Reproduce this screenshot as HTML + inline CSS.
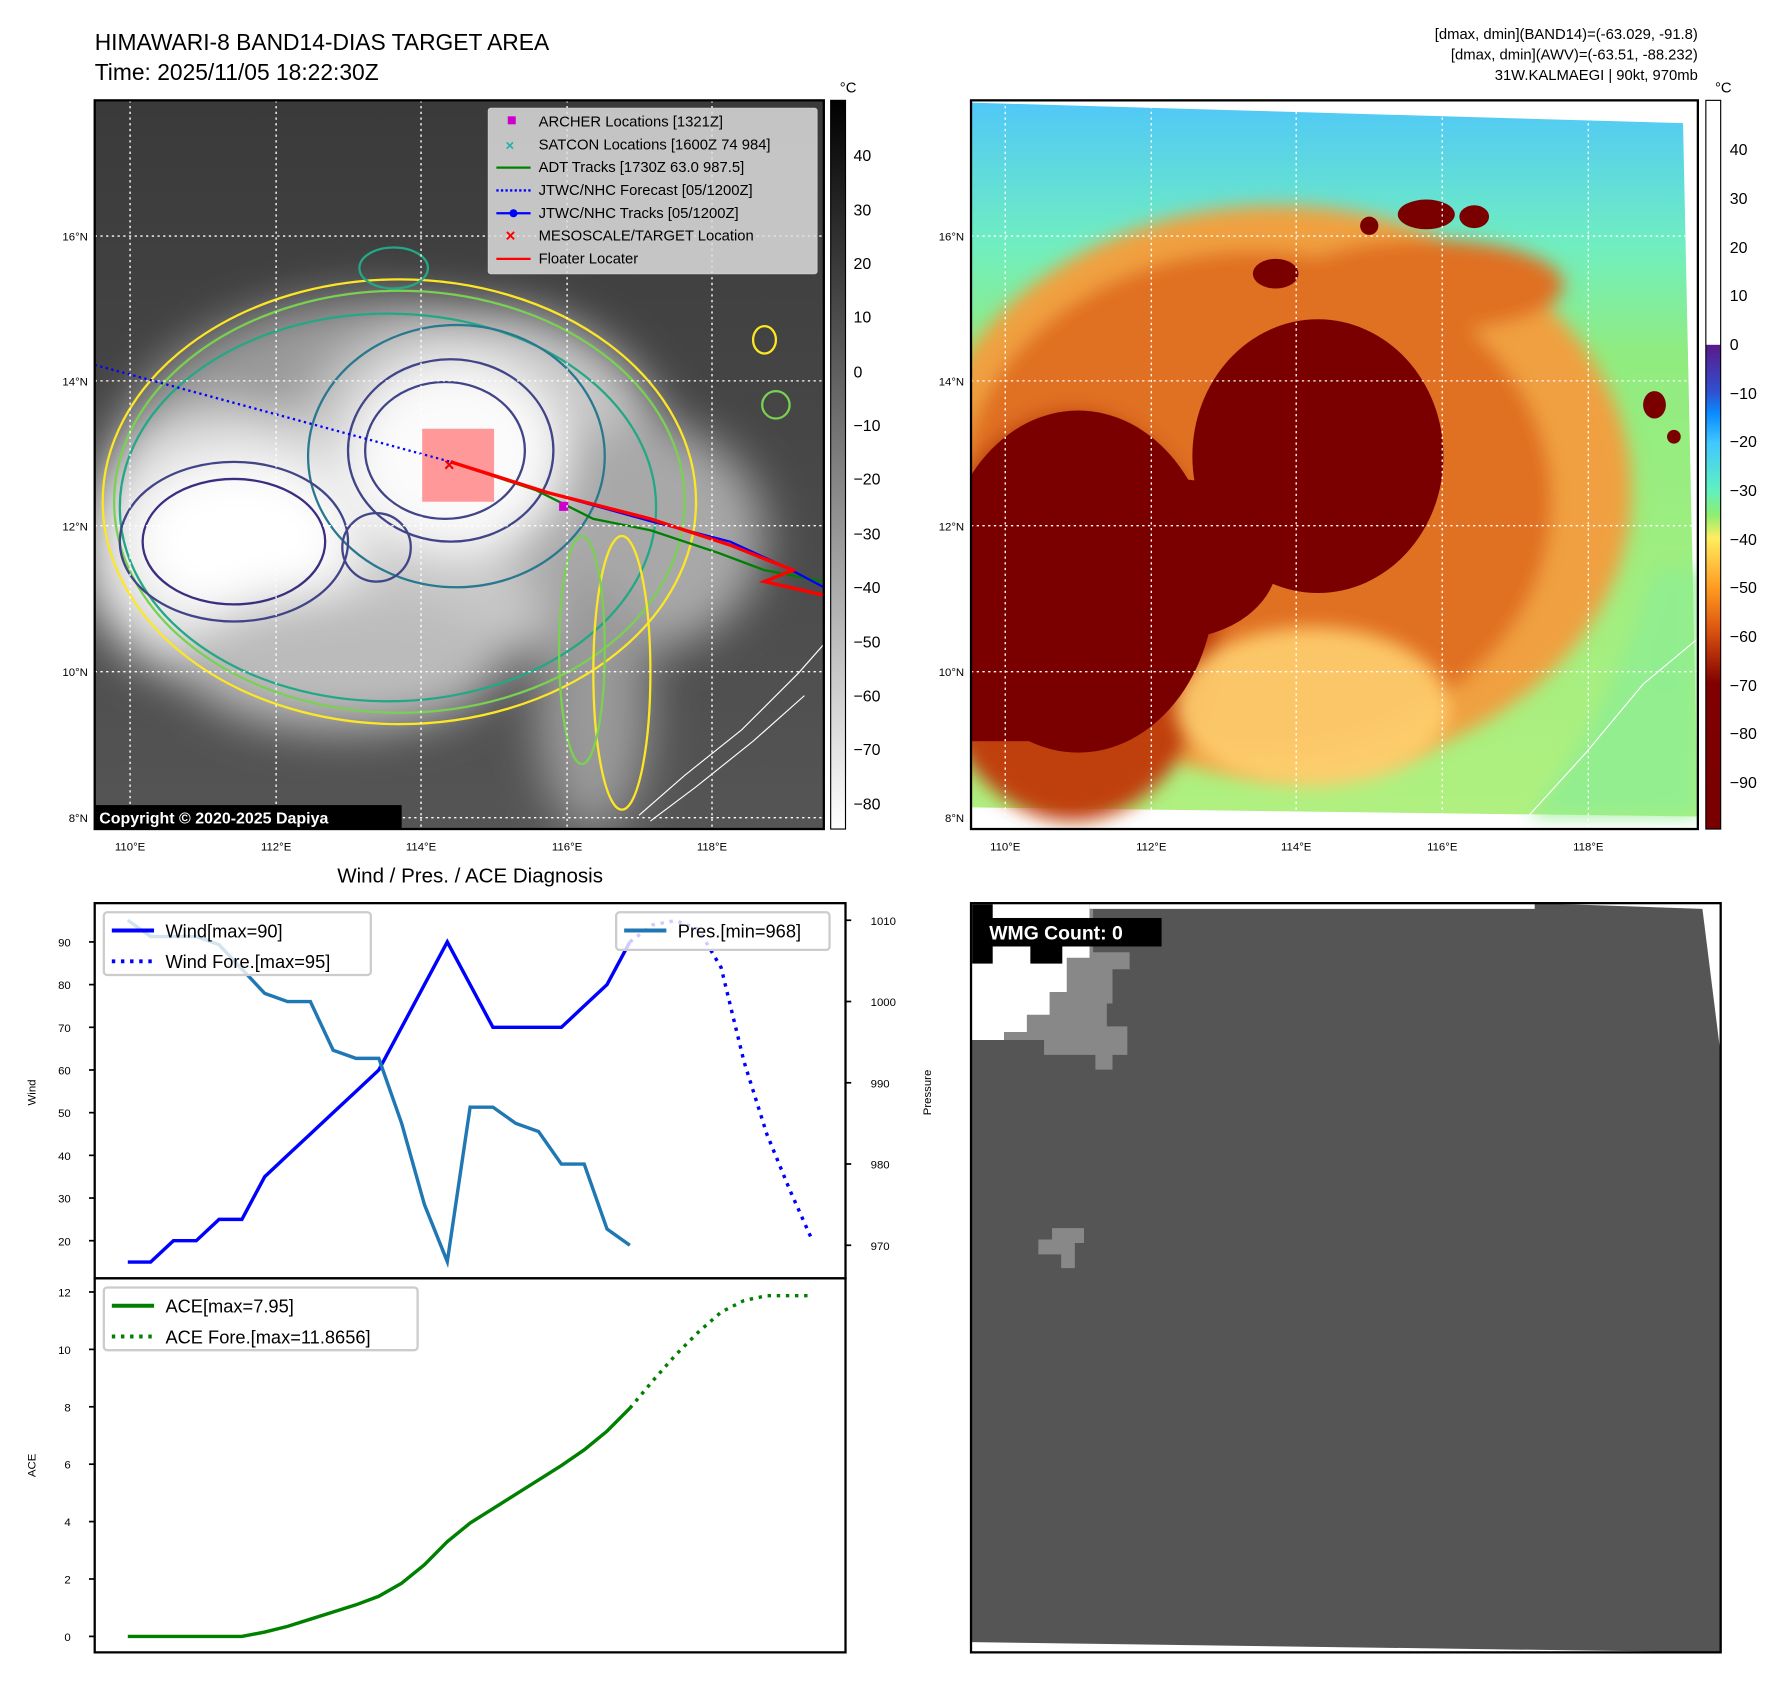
<!DOCTYPE html>
<html><head><meta charset="utf-8"><style>
html,body{margin:0;padding:0;background:#fff}
svg{display:block;font-family:"Liberation Sans","DejaVu Sans",sans-serif}
</style></head><body>
<svg id="fig" width="1788" height="1690" viewBox="0 0 1567 1482" preserveAspectRatio="none" xmlns="http://www.w3.org/2000/svg">
<defs>
<filter id="blur8"><feGaussianBlur stdDeviation="8"/></filter>
<filter id="blur20"><feGaussianBlur stdDeviation="20"/></filter>
<clipPath id="c1"><rect x="83" y="88" width="639" height="639"/></clipPath>
<clipPath id="c2"><rect x="851" y="88" width="637" height="639"/></clipPath>
<linearGradient id="cb1" x1="0" y1="0" x2="0" y2="1"><stop offset="0" stop-color="#000"/><stop offset="1" stop-color="#fff"/></linearGradient>
<linearGradient id="cb2" x1="0" y1="0" x2="0" y2="1">
<stop offset="0" stop-color="#fff"/><stop offset="0.335" stop-color="#fff"/>
<stop offset="0.336" stop-color="#5a1a8a"/><stop offset="0.4" stop-color="#3050d0"/><stop offset="0.43" stop-color="#0a8cff"/>
<stop offset="0.47" stop-color="#40c8ff"/><stop offset="0.535" stop-color="#60f0c0"/><stop offset="0.57" stop-color="#90ee70"/>
<stop offset="0.6" stop-color="#ffee60"/><stop offset="0.67" stop-color="#ff9a20"/><stop offset="0.73" stop-color="#d85010"/>
<stop offset="0.8" stop-color="#800000"/><stop offset="1" stop-color="#780000"/></linearGradient>
<linearGradient id="sky2" x1="0" y1="0" x2="0" y2="1"><stop offset="0" stop-color="#50c8f8"/><stop offset="0.2" stop-color="#70eec0"/><stop offset="0.35" stop-color="#90ec80"/><stop offset="1" stop-color="#b0f080"/></linearGradient>
<linearGradient id="sky1" x1="0" y1="0" x2="0" y2="1"><stop offset="0" stop-color="#3a3a3a"/><stop offset="1" stop-color="#555"/></linearGradient>
</defs>

<text x="83" y="44" font-size="20">HIMAWARI-8 BAND14-DIAS TARGET AREA</text>
<text x="83" y="70" font-size="20">Time: 2025/11/05 18:22:30Z</text>
<g font-size="13" text-anchor="end">
<text x="1488" y="34">[dmax, dmin](BAND14)=(-63.029, -91.8)</text>
<text x="1488" y="52">[dmax, dmin](AWV)=(-63.51, -88.232)</text>
<text x="1488" y="70">31W.KALMAEGI | 90kt, 970mb</text>
</g>

<g clip-path="url(#c1)">
<rect x="83" y="88" width="639" height="639" fill="url(#sky1)"/>
<g filter="url(#blur20)">
<ellipse cx="330" cy="430" rx="240" ry="170" fill="#9a9a9a"/>
<ellipse cx="420" cy="420" rx="170" ry="150" fill="#c8c8c8"/>
<ellipse cx="560" cy="470" rx="110" ry="100" fill="#a8a8a8"/>
<ellipse cx="200" cy="480" rx="130" ry="120" fill="#e0e0e0"/>
<ellipse cx="400" cy="400" rx="95" ry="85" fill="#fbfbfb"/>
<ellipse cx="210" cy="475" rx="95" ry="70" fill="#fff"/>
<ellipse cx="300" cy="580" rx="140" ry="60" fill="#bbb"/>
<ellipse cx="520" cy="620" rx="50" ry="110" fill="#999"/>
</g>
<g fill="none" stroke-width="2">
<ellipse cx="350" cy="440" rx="260" ry="195" stroke="#fde725"/>
<ellipse cx="350" cy="440" rx="250" ry="185" stroke="#7ad151"/>
<ellipse cx="340" cy="445" rx="235" ry="170" stroke="#22a884"/>
<ellipse cx="400" cy="400" rx="130" ry="115" stroke="#2a788e"/>
<ellipse cx="395" cy="395" rx="90" ry="80" stroke="#414487"/>
<ellipse cx="390" cy="395" rx="70" ry="60" stroke="#414487"/>
<ellipse cx="205" cy="475" rx="100" ry="70" stroke="#414487"/>
<ellipse cx="205" cy="475" rx="80" ry="55" stroke="#3b2d80"/>
<ellipse cx="330" cy="480" rx="30" ry="30" stroke="#414487"/>
<ellipse cx="545" cy="590" rx="25" ry="120" stroke="#fde725"/>
<ellipse cx="510" cy="570" rx="20" ry="100" stroke="#7ad151"/>
<ellipse cx="345" cy="235" rx="30" ry="18" stroke="#22a884"/>
<ellipse cx="680" cy="355" rx="12" ry="12" stroke="#7ad151"/>
<ellipse cx="670" cy="298" rx="10" ry="12" stroke="#fde725"/>
</g>
<path d="M560,715 L600,680 L650,640 L700,590 L722,565" fill="none" stroke="#fff" stroke-width="1"/>
<path d="M570,720 L610,690 L660,650 L705,610" fill="none" stroke="#fff" stroke-width="1"/>
<rect x="370" y="376" width="63" height="64" fill="#ff9999"/>
<line x1="83" y1="320" x2="395" y2="405" stroke="#0000ff" stroke-width="2" stroke-dasharray="2 3"/>
<polyline points="395,405 470,430 520,455 570,465 630,485 670,500 722,510" fill="none" stroke="#008000" stroke-width="2"/>
<polyline points="395,405 480,432 570,457 640,475 690,498 722,515" fill="none" stroke="#0000ff" stroke-width="2"/>
<polyline points="395,405 480,432 570,455 640,478 695,500 670,510 722,522" fill="none" stroke="#ff0000" stroke-width="3"/>
<text x="389" y="413" font-size="16" fill="#e00" font-weight="bold">×</text>
<rect x="490" y="440" width="8" height="8" fill="#c0c"/>
</g>
<g stroke="#fff" stroke-width="1.2" stroke-dasharray="2 3">
<line x1="114" y1="88" x2="114" y2="727"/><line x1="242" y1="88" x2="242" y2="727"/><line x1="369" y1="88" x2="369" y2="727"/><line x1="497" y1="88" x2="497" y2="727"/><line x1="624" y1="88" x2="624" y2="727"/>
<line x1="83" y1="207" x2="722" y2="207"/><line x1="83" y1="334" x2="722" y2="334"/><line x1="83" y1="461" x2="722" y2="461"/><line x1="83" y1="589" x2="722" y2="589"/><line x1="83" y1="717" x2="722" y2="717"/>
</g>
<rect x="83" y="88" width="639" height="639" fill="none" stroke="#000" stroke-width="2"/>
<g font-size="13">
<rect x="428" y="95" width="288" height="145" fill="#ddd" fill-opacity="0.85" stroke="#ccc" rx="2"/>
<rect x="445" y="102" width="7" height="7" fill="#c0c"/><text x="472" y="111">ARCHER Locations [1321Z]</text>
<text x="443" y="132" fill="#20b2aa" font-weight="bold">×</text><text x="472" y="131">SATCON Locations [1600Z 74 984]</text>
<line x1="435" y1="147" x2="465" y2="147" stroke="#008000" stroke-width="2"/><text x="472" y="151">ADT Tracks [1730Z 63.0 987.5]</text>
<line x1="435" y1="167" x2="465" y2="167" stroke="#00f" stroke-width="2" stroke-dasharray="2 2"/><text x="472" y="171">JTWC/NHC Forecast [05/1200Z]</text>
<line x1="435" y1="187" x2="465" y2="187" stroke="#00f" stroke-width="2"/><circle cx="450" cy="187" r="3.5" fill="#00f"/><text x="472" y="191">JTWC/NHC Tracks [05/1200Z]</text>
<text x="443" y="212" fill="#f00" font-weight="bold" font-size="15">×</text><text x="472" y="211">MESOSCALE/TARGET Location</text>
<line x1="435" y1="227" x2="465" y2="227" stroke="#f00" stroke-width="2"/><text x="472" y="231">Floater Locater</text>
</g>
<rect x="83" y="706" width="269" height="21" fill="#000"/>
<text x="87" y="722" font-size="14" font-weight="bold" fill="#fff">Copyright © 2020-2025 Dapiya</text>
<rect x="728" y="88" width="13" height="639" fill="url(#cb1)" stroke="#000"/>
<text x="736" y="81" font-size="13">°C</text>
<g font-size="14">
<text x="748" y="141">40</text><text x="748" y="189">30</text><text x="748" y="236">20</text><text x="748" y="283">10</text><text x="748" y="331">0</text>
<text x="748" y="378">−10</text><text x="748" y="425">−20</text><text x="748" y="473">−30</text><text x="748" y="520">−40</text><text x="748" y="568">−50</text><text x="748" y="615">−60</text><text x="748" y="662">−70</text><text x="748" y="710">−80</text>
</g>
<g font-size="10" text-anchor="end">
<text x="77" y="211">16°N</text><text x="77" y="338">14°N</text><text x="77" y="465">12°N</text><text x="77" y="593">10°N</text><text x="77" y="721">8°N</text>
</g>
<g font-size="10" text-anchor="middle">
<text x="114" y="746">110°E</text><text x="242" y="746">112°E</text><text x="369" y="746">114°E</text><text x="497" y="746">116°E</text><text x="624" y="746">118°E</text>
</g>

<g clip-path="url(#c2)">
<polygon points="851,90 1475,108 1488,716 851,708" fill="url(#sky2)"/>
<g filter="url(#blur8)">
<ellipse cx="1120" cy="430" rx="310" ry="250" fill="#f0a040"/>
<ellipse cx="1100" cy="440" rx="260" ry="220" fill="#e07020"/>
<ellipse cx="940" cy="540" rx="130" ry="180" fill="#c04010"/>
<ellipse cx="1250" cy="250" rx="120" ry="40" fill="#e07020"/>
</g>
<g filter="url(#blur8)" opacity="0.9">
<path d="M1450,500 Q1400,650 1340,716 L1488,716 L1488,500 Z" fill="#90ee90"/>
<ellipse cx="1150" cy="620" rx="120" ry="70" fill="#ffd070"/>
</g>
<g fill="#7a0000">
<ellipse cx="1155" cy="400" rx="110" ry="120"/>
<ellipse cx="945" cy="510" rx="120" ry="150"/>
<rect x="851" y="420" width="60" height="230"/>
<ellipse cx="1030" cy="490" rx="90" ry="70"/>
<ellipse cx="1250" cy="188" rx="25" ry="13"/><ellipse cx="1292" cy="190" rx="13" ry="10"/><ellipse cx="1200" cy="198" rx="8" ry="8"/>
<ellipse cx="1118" cy="240" rx="20" ry="13"/><ellipse cx="1450" cy="355" rx="10" ry="12"/><ellipse cx="1467" cy="383" rx="6" ry="6"/>
</g>
<path d="M1340,715 L1390,660 L1440,600 L1488,560" fill="none" stroke="#fff" stroke-width="1"/>
</g>
<g stroke="#fff" stroke-width="1.2" stroke-dasharray="2 3">
<line x1="881" y1="88" x2="881" y2="727"/><line x1="1009" y1="88" x2="1009" y2="727"/><line x1="1136" y1="88" x2="1136" y2="727"/><line x1="1264" y1="88" x2="1264" y2="727"/><line x1="1392" y1="88" x2="1392" y2="727"/>
<line x1="851" y1="207" x2="1488" y2="207"/><line x1="851" y1="334" x2="1488" y2="334"/><line x1="851" y1="461" x2="1488" y2="461"/><line x1="851" y1="589" x2="1488" y2="589"/>
</g>
<rect x="851" y="88" width="637" height="639" fill="none" stroke="#000" stroke-width="2"/>
<rect x="1495" y="88" width="13" height="639" fill="url(#cb2)" stroke="#000"/>
<text x="1503" y="81" font-size="13">°C</text>
<g font-size="14">
<text x="1516" y="136">40</text><text x="1516" y="179">30</text><text x="1516" y="222">20</text><text x="1516" y="264">10</text><text x="1516" y="307">0</text>
<text x="1516" y="350">−10</text><text x="1516" y="392">−20</text><text x="1516" y="435">−30</text><text x="1516" y="478">−40</text><text x="1516" y="520">−50</text><text x="1516" y="563">−60</text><text x="1516" y="606">−70</text><text x="1516" y="648">−80</text><text x="1516" y="691">−90</text>
</g>
<g font-size="10" text-anchor="end">
<text x="845" y="211">16°N</text><text x="845" y="338">14°N</text><text x="845" y="465">12°N</text><text x="845" y="593">10°N</text><text x="845" y="721">8°N</text>
</g>
<g font-size="10" text-anchor="middle">
<text x="881" y="746">110°E</text><text x="1009" y="746">112°E</text><text x="1136" y="746">114°E</text><text x="1264" y="746">116°E</text><text x="1392" y="746">118°E</text>
</g>

<g>
<rect x="851" y="792" width="657" height="657" fill="#555"/>
<polygon points="955,792 1345,792 1345,797 955,797" fill="#fff"/>
<polygon points="1345,792 1508,792 1508,925 1492,797" fill="#fff"/>
<polygon points="851,1440 1508,1449 851,1449" fill="#fff"/>
<polygon points="851,792 955,792 955,840 935,840 935,870 920,870 920,890 900,890 900,905 880,905 880,912 851,912" fill="#fff"/>
<polygon points="955,797 958,797 958,835 990,835 990,850 975,850 975,880 970,880 970,900 988,900 988,925 975,925 975,938 960,938 960,925 915,925 915,912 880,912 880,905 900,905 900,890 920,890 920,870 935,870 935,840 955,840" fill="#888"/>
<rect x="852" y="793" width="18" height="52" fill="#000"/>
<rect x="903" y="828" width="28" height="17" fill="#000"/>
<polygon points="922,1077 950,1077 950,1090 942,1090 942,1112 930,1112 930,1100 910,1100 910,1087 922,1087" fill="#888"/>
<rect x="851" y="792" width="657" height="657" fill="none" stroke="#000" stroke-width="2"/>
<rect x="858" y="805" width="160" height="25" fill="#000"/>
<text x="867" y="824" font-size="17" font-weight="bold" fill="#fff">WMG Count: 0</text>
</g>

<text x="412" y="774" font-size="18" text-anchor="middle">Wind / Pres. / ACE Diagnosis</text>
<g id="chart"></g>
</svg>
<script>
const windObs = [15,15,20,20,25,25,35,40,45,50,55,60,70,80,90,80,70,70,70,70,75,80,90];
const windFore = [90,94,95,93,84,62,45,32,20];
const presObs = [1010,1008,1008,1008,1007,1004,1001,1000,1000,994,993,993,985,975,968,987,987,985,984,980,980,972,970];
const aceObs = [0,0,0,0,0,0,0.15,0.35,0.6,0.85,1.1,1.4,1.85,2.5,3.3,3.95,4.45,4.95,5.45,5.95,6.5,7.15,7.95];
const aceFore = [7.95,8.9,9.8,10.6,11.3,11.7,11.87,11.87,11.87];
const windTicks = [20,30,40,50,60,70,80,90];
const presTicks = [970,980,990,1000,1010];
const aceTicks = [0,2,4,6,8,10,12];
const foreStart = 22;

const NS = 'http://www.w3.org/2000/svg';
const g = document.getElementById('chart');
const xS = i => 112 + 20 * i;
const yW = v => 826 - (v - 90) * 3.743;
const yP = v => 807 - (v - 1010) * 7.125;
const yA = v => 1435 - v * 25.17;

function mk(tag, attrs, parent) {
  const e = document.createElementNS(NS, tag);
  for (const k in attrs) e.setAttribute(k, attrs[k]);
  (parent || g).appendChild(e);
  return e;
}
function line(vals, off, ys, color, dash, name) {
  const pts = vals.map((v, i) => xS(i + off).toFixed(1) + ',' + ys(v).toFixed(1)).join(' ');
  const p = mk('polyline', {points: pts, fill: 'none', stroke: color, 'stroke-width': 3});
  if (dash) p.setAttribute('stroke-dasharray', '3 5');
  
  
  return p;
}
const f1 = mk('rect', {x: 83, y: 792, width: 658, height: 329, fill: 'none', stroke: '#000', 'stroke-width': 2});


const f2 = mk('rect', {x: 83, y: 1121, width: 658, height: 328, fill: 'none', stroke: '#000', 'stroke-width': 2});



windTicks.forEach(t => {
  mk('line', {x1: 78, x2: 83, y1: yW(t), y2: yW(t), stroke: '#000', 'stroke-width': 1.5});
  const tx = mk('text', {x: 62, y: yW(t) + 4, 'font-size': 10, 'text-anchor': 'end'});
  tx.textContent = t;
  
  
});
presTicks.forEach(t => {
  mk('line', {x1: 741, x2: 746, y1: yP(t), y2: yP(t), stroke: '#000', 'stroke-width': 1.5});
  const tx = mk('text', {x: 763, y: yP(t) + 4, 'font-size': 10});
  tx.textContent = t;
  
  
});
aceTicks.forEach(t => {
  mk('line', {x1: 78, x2: 83, y1: yA(t), y2: yA(t), stroke: '#000', 'stroke-width': 1.5});
  const tx = mk('text', {x: 62, y: yA(t) + 4, 'font-size': 10, 'text-anchor': 'end'});
  tx.textContent = t;
  
  
});
function vlabel(txt, x, y, name) {
  const t = mk('text', {x: x, y: y, 'font-size': 10, 'text-anchor': 'middle', transform: 'rotate(-90 ' + x + ' ' + y + ')'});
  t.textContent = txt;
  
  
}
vlabel('Wind', 31, 958, 'wind-axis-title');
vlabel('Pressure', 816, 958, 'pressure-axis-title');
vlabel('ACE', 31, 1285, 'ace-axis-title');

line(windObs, 0, yW, '#0000ff', false, 'wind-line');
line(windFore, foreStart, yW, '#0000ff', true, 'wind-forecast-line');
line(presObs, 0, yP, '#1f77b4', false, 'pressure-line');
line(aceObs, 0, yA, '#008000', false, 'ace-line');
line(aceFore, foreStart, yA, '#008000', true, 'ace-forecast-line');

function legend(x, y, w, h, items, name) {
  const lg = mk('g', {});
  
  
  mk('rect', {x: x, y: y, width: w, height: h, rx: 3, fill: '#fff', 'fill-opacity': 0.8, stroke: '#ccc', 'stroke-width': 2}, lg);
  items.forEach((it, i) => {
    const yy = y + 16 + i * 27;
    const l = mk('line', {x1: x + 7, x2: x + 44, y1: yy, y2: yy, stroke: it[1], 'stroke-width': 3.5}, lg);
    if (it[2]) l.setAttribute('stroke-dasharray', '3 5');
    const t = mk('text', {x: x + 54, y: yy + 6, 'font-size': 16}, lg);
    t.textContent = it[0];
  });
}
legend(91, 800, 234, 55, [['Wind[max=90]', '#0000ff', false], ['Wind Fore.[max=95]', '#0000ff', true]], 'wind-legend');
legend(540, 800, 187, 33, [['Pres.[min=968]', '#1f77b4', false]], 'pressure-legend');
legend(91, 1129, 275, 55, [['ACE[max=7.95]', '#008000', false], ['ACE Fore.[max=11.8656]', '#008000', true]], 'ace-legend');
</script>
</body></html>
